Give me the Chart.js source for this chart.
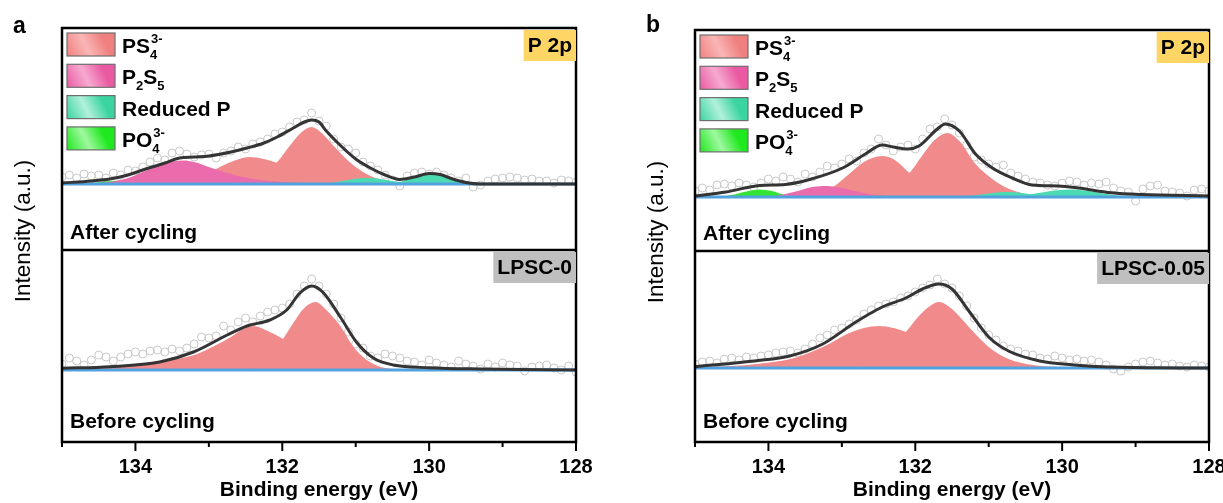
<!DOCTYPE html>
<html>
<head>
<meta charset="utf-8">
<script src="https://cdn.jsdelivr.net/npm/chart.js@4.4.0/dist/chart.umd.min.js"></script>
<style>
  html, body { margin: 0; padding: 0; background: #fff; overflow: hidden; }
  #wrap { position: relative; width: 1223px; height: 503px; overflow: hidden; }
  canvas { position: absolute; top: 0; }
  #panelA { left: 0; }
  #panelB { left: 612px; }
</style>
</head>
<body>
<div id="wrap">
  <canvas id="panelA" width="612" height="503"></canvas>
  <canvas id="panelB" width="630" height="503"></canvas>
</div>
<script>
// measured points (open circles), binding energy in eV
const rawEnergy = [135.0, 134.9, 134.8, 134.7, 134.6, 134.5, 134.4, 134.3, 134.2, 134.1,
  134.0, 133.9, 133.8, 133.7, 133.6, 133.5, 133.4, 133.3, 133.2, 133.1,
  133.0, 132.9, 132.8, 132.7, 132.6, 132.5, 132.4, 132.3, 132.2, 132.1,
  132.0, 131.9, 131.8, 131.7, 131.6, 131.5, 131.4, 131.3, 131.2, 131.1,
  131.0, 130.9, 130.8, 130.7, 130.6, 130.5, 130.4, 130.3, 130.2, 130.1,
  130.0, 129.9, 129.8, 129.7, 129.6, 129.5, 129.4, 129.3, 129.2, 129.1,
  129.0, 128.9, 128.8, 128.7, 128.6, 128.5, 128.4, 128.3, 128.2, 128.1, 128.0];

const aAfterRaw = [7, 9, 6, 10, 8, 9, 6, 11, 9, 14,
  13, 17, 22, 26, 24, 31, 33, 30, 27, 29,
  30, 26, 31, 33, 37, 35, 40, 42, 45, 50,
  52, 57, 62, 64, 71, 63, 58, 45, 37, 35,
  31, 22, 18, 14, 9, 4, -2, 8, 11, 12,
  10, 12, 9, 6, 3, 6, -3, -1, 3, 5,
  6, 7, 6, 4, 5, 3, 3, 1, 4, 3, 2];
const aBeforeRaw = [6, 12, 9, 5, 10, 15, 13, 9, 13, 16,
  18, 16, 19, 20, 18, 21, 19, 22, 26, 33,
  32, 34, 44, 40, 48, 52, 48, 54, 58, 60,
  62, 66, 76, 84, 91, 84, 76, 66, 52, 38,
  26, 22, 14, 12, 16, 14, 12, 9, 8, 5,
  10, 7, 5, 3, 9, 6, 4, 1, 6, 3,
  7, 5, 4, -1, 3, 4, 5, 2, 0, 4, -2];
const bAfterRaw = [6, 9, 7, 12, 13, 11, 14, 12, 10, 14,
  18, 16, 20, 18, 15, 23, 20, 25, 31, 29,
  33, 38, 36, 44, 48, 58, 52, 46, 50, 52,
  48, 58, 68, 70, 78, 72, 64, 52, 40, 37,
  33, 30, 32, 24, 21, 18, 15, 14, 12, 11,
  14, 16, 15, 12, 14, 13, 15, 9, 6, 5,
  -4, 8, 11, 12, 6, 5, 4, 1, 7, 8, 6];
const bBeforeRaw = [4, 6, 7, 5, 9, 10, 8, 11, 10, 12,
  13, 15, 16, 17, 15, 19, 24, 30, 33, 38,
  40, 44, 48, 54, 58, 62, 64, 66, 70, 72,
  76, 80, 83, 89, 84, 80, 72, 62, 50, 40,
  33, 28, 22, 19, 17, 14, 13, 10, 9, 12,
  10, 8, 9, 7, 8, 6, 3, -1, -3, 1,
  4, 6, 7, 5, 3, 4, 2, 1, 3, 2, 1];

// fitted curves: [binding energy, intensity]
const baseline = [[135, 0], [128, 0]];

const aAfterEnv = [[135.0, 1], [134.6, 3], [134.35, 5], [134.1, 9], [133.9, 14], [133.6, 21], [133.4, 26],
  [133.2, 27], [133.0, 28], [132.7, 32], [132.48, 36], [132.25, 41], [132.07, 47], [131.85, 56],
  [131.7, 62], [131.6, 64], [131.5, 62], [131.4, 53], [131.2, 38], [131.0, 25], [130.8, 16],
  [130.6, 9], [130.4, 4.5], [130.2, 7], [130.0, 10.5], [129.85, 9.5], [129.7, 5.5], [129.5, 1.5],
  [129.3, 0], [128.0, 0]];
const aAfterPS4a = [[132.9, 0.5], [132.6, 3], [132.3, 10], [132.07, 22], [131.9, 38], [131.75, 51],
  [131.6, 57], [131.45, 50], [131.3, 38], [131.1, 23], [130.9, 12], [130.7, 5], [130.5, 1.5], [130.3, 0]];
const aAfterPS4b = [[133.6, 0], [133.4, 2], [133.1, 7], [132.9, 15], [132.7, 22], [132.45, 27], [132.25, 25],
  [132.07, 21], [131.9, 15], [131.7, 9], [131.5, 4], [131.3, 1.5], [131.0, 0]];
const aAfterP2S5 = [[134.6, 0], [134.35, 2], [134.1, 6], [133.9, 12], [133.7, 18], [133.5, 22.5], [133.35, 23.5],
  [133.2, 22], [133.0, 17], [132.8, 12], [132.6, 8], [132.4, 5], [132.2, 3], [132.0, 2], [131.7, 1], [131.4, 0]];
const aAfterRedA = [[131.6, 0], [131.3, 1.5], [131.1, 4], [130.9, 6], [130.7, 5.5], [130.5, 3], [130.3, 1], [130.1, 0]];
const aAfterRedB = [[130.6, 0], [130.4, 2], [130.2, 7], [130.0, 11], [129.85, 10], [129.7, 6], [129.55, 2.5],
  [129.4, 0.5], [129.2, 0]];
const aAfterPO4 = [[134.7, 0], [134.4, 2.5], [134.15, 3.5], [133.9, 2.5], [133.65, 0.8], [133.4, 0]];

const aBeforeEnv = [[135.0, 1.7], [134.35, 3.3], [133.67, 8], [133.21, 18], [132.75, 35], [132.48, 44],
  [132.17, 50], [131.94, 60], [131.76, 77], [131.6, 84], [131.45, 78], [131.21, 53], [130.98, 27],
  [130.76, 12], [130.49, 5], [130.0, 2.3], [129.3, 1], [128.0, 0]];
const aBeforePS4a = [[132.7, 0], [132.4, 2], [132.17, 12], [131.99, 31], [131.85, 47], [131.7, 62], [131.55, 68],
  [131.4, 60], [131.2, 43], [131.05, 25], [130.9, 13], [130.7, 4], [130.5, 1], [130.3, 0]];
const aBeforePS4b = [[135.0, 0.5], [134.5, 2], [134.0, 4.5], [133.6, 9], [133.2, 15], [132.9, 25], [132.7, 33],
  [132.55, 40], [132.4, 44], [132.17, 38], [131.99, 31], [131.8, 20], [131.6, 10], [131.4, 4], [131.2, 1], [131.0, 0]];

const bAfterEnv = [[135.0, 1], [134.58, 5], [134.12, 11.5], [133.77, 12.5], [133.44, 17.5], [132.99, 29],
  [132.68, 43], [132.45, 52], [132.3, 50], [132.1, 48], [131.95, 51], [131.7, 68], [131.59, 73],
  [131.4, 66], [131.18, 43], [130.95, 29], [130.68, 19], [130.41, 12], [130.05, 11], [129.78, 9],
  [129.33, 4.3], [128.92, 2.5], [128.0, 1]];
const bAfterPS4a = [[132.7, 0.5], [132.35, 8], [132.08, 24], [131.9, 42], [131.75, 56], [131.56, 64], [131.4, 56],
  [131.18, 33], [130.95, 18], [130.75, 9], [130.5, 3], [130.25, 0.5], [130.0, 0]];
const bAfterPS4b = [[133.6, 0], [133.3, 4], [133.1, 11], [132.9, 23], [132.7, 35], [132.45, 41], [132.3, 38],
  [132.08, 24], [131.9, 12], [131.7, 5], [131.5, 2], [131.2, 0]];
const bAfterP2S5 = [[134.0, 0], [133.8, 2.5], [133.6, 6], [133.4, 10], [133.2, 11], [133.0, 9], [132.8, 5.5],
  [132.6, 2.5], [132.4, 1], [132.2, 0]];
const bAfterRedA = [[131.4, 0], [131.1, 2.5], [130.9, 4.5], [130.7, 5], [130.5, 3.5], [130.3, 1.5], [130.1, 0]];
const bAfterRedB = [[130.7, 0], [130.4, 3], [130.1, 6.5], [129.85, 7.5], [129.6, 5.5], [129.35, 2.5], [129.1, 0.5], [128.9, 0]];
const bAfterPO4 = [[134.75, 0], [134.5, 2], [134.3, 5.5], [134.12, 7.5], [133.95, 6], [133.8, 2.5], [133.6, 0.5], [133.4, 0]];

const bBeforeEnv = [[135.0, 1.3], [134.16, 7.3], [133.71, 12], [133.26, 24], [132.81, 46], [132.45, 61],
  [132.13, 70], [131.9, 79], [131.68, 84], [131.5, 79], [131.27, 57], [131.0, 31], [130.73, 17],
  [130.32, 7.3], [129.87, 3.3], [129.19, 0.7], [128.0, 0]];
const bBeforePS4a = [[132.8, 3], [132.5, 12], [132.3, 24], [132.13, 36], [131.95, 52], [131.8, 62], [131.68, 66],
  [131.5, 59], [131.27, 41], [131.0, 21], [130.73, 9], [130.4, 3], [130.0, 0.8], [129.6, 0]];
const bBeforePS4b = [[135.0, 0.5], [134.5, 2], [134.16, 4], [133.7, 9], [133.26, 21], [132.9, 35], [132.7, 40],
  [132.49, 42], [132.3, 40], [132.13, 36], [131.9, 26], [131.7, 15], [131.5, 8], [131.2, 3], [130.9, 1], [130.5, 0]];

// legend names, split into [text, 0 normal | 1 subscript | 2 superscript]
const componentNames = [
  [['PS', 0], ['4', 1], ['3-', 2]],
  [['P', 0], ['2', 1], ['S', 0], ['5', 1]],
  [['Reduced P', 0]],
  [['PO', 0], ['4', 1], ['3-', 2]]
];

const C = {
  ps4: 'rgb(241,138,138)',
  p2s5: 'rgb(234,108,172)',
  red: 'rgb(76,218,178)',
  po4: 'rgb(52,228,52)',
  base: 'rgb(82,162,222)',
  env: 'rgb(52,52,52)',
  dot: 'rgb(200,200,200)'
};
const legendSwatch = [
  ['rgb(240,128,128)', 'rgb(250,182,182)'],
  ['rgb(234,90,162)', 'rgb(246,170,208)'],
  ['rgb(58,212,160)', 'rgb(178,240,220)'],
  ['rgb(30,232,30)', 'rgb(160,248,160)']
];

const FAM = '"Liberation Sans", Arial, sans-serif';
const F = (s, w) => (w || 'bold') + ' ' + s + 'px ' + FAM;
Chart.defaults.font.family = FAM;

const pts = arr => arr.map(([x, y]) => ({x, y}));

function area(data, color, order, axis) {
  return { data: pts(data), yAxisID: axis, fill: 'origin', backgroundColor: color, borderWidth: 0,
    pointRadius: 0, cubicInterpolationMode: 'monotone', order };
}
function curve(data, color, width, order, axis) {
  return { data: pts(data), yAxisID: axis, fill: false, borderColor: color, borderWidth: width,
    pointRadius: 0, cubicInterpolationMode: 'monotone', order };
}
function dots(values, axis) {
  return { data: rawEnergy.map((x, i) => ({x, y: values[i]})), yAxisID: axis, showLine: false,
    pointRadius: 4, pointBorderWidth: 1, pointBorderColor: C.dot, pointBackgroundColor: 'rgba(255,255,255,0)', order: 9 };
}

function drawChem(ctx, x, y, parts) {
  let cx = x, subX = null;
  for (const [t, k] of parts) {
    if (k === 0) {
      ctx.font = F(21); ctx.fillText(t, cx, y); cx += ctx.measureText(t).width; subX = null;
    } else if (k === 1) {
      ctx.font = F(13); ctx.fillText(t, cx, y + 6); subX = cx; cx += ctx.measureText(t).width;
    } else {
      ctx.font = F(13);
      const sx = subX !== null ? subX + 1 : cx;
      ctx.fillText(t, sx, y - 10);
      cx = Math.max(cx, sx + ctx.measureText(t).width);
    }
  }
}

function tagBox(ctx, text, right, top, fill) {
  ctx.font = F(21);
  const w = ctx.measureText(text).width + 8;
  ctx.fillStyle = fill;
  ctx.fillRect(right - w, top, w, 31);
  ctx.fillStyle = '#000';
  ctx.textAlign = 'center'; ctx.textBaseline = 'middle';
  ctx.fillText(text, right - w / 2, top + 16);
  ctx.textAlign = 'left'; ctx.textBaseline = 'alphabetic';
}

const decor = {
  id: 'decor',
  afterDraw(chart, args, o) {
    const {ctx, chartArea: ca, scales} = chart;
    const xs = scales.x;
    const split = scales.yTop.bottom;
    ctx.save();
    // tick marks, long at labelled values
    ctx.strokeStyle = '#000';
    ctx.lineWidth = 2;
    for (let v = 128; v <= 135; v++) {
      const px = xs.getPixelForValue(v);
      ctx.beginPath();
      ctx.moveTo(px, ca.bottom);
      ctx.lineTo(px, ca.bottom + (v % 2 ? 5 : 9));
      ctx.stroke();
    }
    // frame and divider
    ctx.lineWidth = 2.5;
    ctx.strokeRect(ca.left, ca.top, ca.right - ca.left, ca.bottom - ca.top);
    ctx.beginPath();
    ctx.moveTo(ca.left, split);
    ctx.lineTo(ca.right, split);
    ctx.stroke();

    // y title
    ctx.fillStyle = '#000';
    ctx.save();
    ctx.translate(o.titleX, (ca.top + ca.bottom) / 2 - 4);
    ctx.rotate(-Math.PI / 2);
    ctx.font = F(22.5, 'normal');
    ctx.textAlign = 'center'; ctx.textBaseline = 'middle';
    ctx.fillText('Intensity (a.u.)', 0, 0);
    ctx.restore();

    // panel letter
    ctx.font = F(23);
    ctx.fillText(o.letter, o.letterX, o.letterY);

    // legend
    componentNames.forEach((parts, i) => {
      const bx = ca.left + 5, by = o.legendTop + i * 31.3, bw = 48, bh = 23;
      const [c0, c1] = legendSwatch[i];
      const g = ctx.createLinearGradient(bx, by + bh, bx + bw, by);
      g.addColorStop(0, c0);
      g.addColorStop(0.4, c1);
      g.addColorStop(0.75, c0);
      g.addColorStop(1, c0);
      ctx.fillStyle = g;
      ctx.fillRect(bx, by, bw, bh);
      ctx.strokeStyle = 'rgb(110,110,110)';
      ctx.lineWidth = 1.2;
      ctx.strokeRect(bx, by, bw, bh);
      ctx.fillStyle = '#000';
      drawChem(ctx, bx + 55, by + 20, parts);
    });

    // panel texts
    ctx.font = F(21);
    ctx.textBaseline = 'middle';
    ctx.fillText('After cycling', ca.left + 8, split - 17);
    ctx.fillText('Before cycling', ca.left + 8, ca.bottom - 20);
    ctx.textBaseline = 'alphabetic';
    tagBox(ctx, 'P 2p', ca.right, ca.top + 2, 'rgb(255,214,102)');
    tagBox(ctx, o.sample, ca.right, split + 2, 'rgb(191,191,191)');
    ctx.restore();
  }
};

function makePanel(id, p) {
  const datasets = [
    curve(p.top.env, C.env, 3, 0, 'yTop'),
    curve(baseline, C.base, 3, 1, 'yTop'),
    area(p.top.p2s5, C.p2s5, 2, 'yTop'),
    area(p.top.po4, C.po4, 3, 'yTop'),
    area(p.top.red[0], C.red, 4, 'yTop'),
    area(p.top.red[1], C.red, 4, 'yTop'),
    area(p.top.ps4[0], C.ps4, 5, 'yTop'),
    area(p.top.ps4[1], C.ps4, 5, 'yTop'),
    dots(p.top.raw, 'yTop'),
    curve(p.bot.env, C.env, 3, 0, 'yBot'),
    curve(baseline, C.base, 3, 1, 'yBot'),
    area(p.bot.ps4[0], C.ps4, 5, 'yBot'),
    area(p.bot.ps4[1], C.ps4, 5, 'yBot'),
    dots(p.bot.raw, 'yBot')
  ];
  new Chart(document.getElementById(id), {
    type: 'line',
    data: { datasets },
    plugins: [decor],
    options: {
      responsive: false,
      animation: false,
      layout: { padding: { left: p.pad.left, right: p.pad.right, top: p.pad.top, bottom: 0 } },
      plugins: {
        legend: { display: false },
        tooltip: { enabled: false },
        decor: { letter: p.letter, letterX: p.letterX, letterY: p.letterY, titleX: p.titleX,
          legendTop: p.legendTop, sample: p.sample }
      },
      scales: {
        x: {
          type: 'linear', min: 128, max: 135, reverse: true, position: 'bottom',
          afterFit: s => { s.height = 61; },
          grid: { display: false, drawTicks: false },
          border: { display: false },
          ticks: {
            stepSize: 1, autoSkip: false, maxRotation: 0, padding: 13, color: '#000',
            font: { size: 20, weight: 'bold' },
            callback: v => (v % 2 === 0 ? String(v) : '')
          },
          title: { display: true, text: 'Binding energy (eV)', color: '#000',
            font: { size: 21, weight: 'bold' }, padding: { top: 0, bottom: 0 } }
        },
        yBot: { type: 'linear', display: false, position: 'left', stack: 'p', stackWeight: p.botH,
          min: p.botRange[0], max: p.botRange[1] },
        yTop: { type: 'linear', display: false, position: 'left', stack: 'p', stackWeight: p.topH,
          min: p.topRange[0], max: p.topRange[1] }
      }
    }
  });
}

makePanel('panelA', {
  letter: 'a', letterX: 13, letterY: 33, titleX: 24, legendTop: 33, sample: 'LPSC-0',
  pad: { left: 62, right: 36, top: 28 },
  topH: 222, botH: 192, topRange: [-66, 156], botRange: [-72, 120],
  top: { raw: aAfterRaw, env: aAfterEnv, ps4: [aAfterPS4a, aAfterPS4b], p2s5: aAfterP2S5,
    red: [aAfterRedA, aAfterRedB], po4: aAfterPO4 },
  bot: { raw: aBeforeRaw, env: aBeforeEnv, ps4: [aBeforePS4a, aBeforePS4b] }
});

makePanel('panelB', {
  letter: 'b', letterX: 34, letterY: 32, titleX: 45, legendTop: 35, sample: 'LPSC-0.05',
  pad: { left: 83, right: 33, top: 30 },
  topH: 221, botH: 191, topRange: [-54, 167], botRange: [-74, 117],
  top: { raw: bAfterRaw, env: bAfterEnv, ps4: [bAfterPS4a, bAfterPS4b], p2s5: bAfterP2S5,
    red: [bAfterRedA, bAfterRedB], po4: bAfterPO4 },
  bot: { raw: bBeforeRaw, env: bBeforeEnv, ps4: [bBeforePS4a, bBeforePS4b] }
});
</script>
</body>
</html>
